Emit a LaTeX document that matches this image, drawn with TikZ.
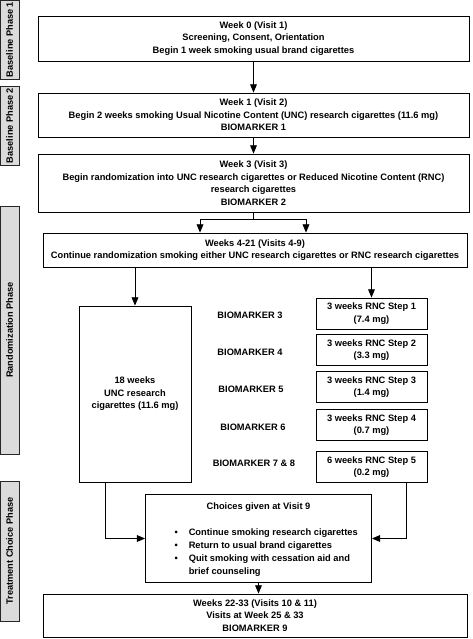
\documentclass[tikz,border=0pt]{standalone}
\usepackage{fontspec}
\setmainfont{Liberation Sans}
\usetikzlibrary{
    arrows,
    calc,
    positioning
}
\tikzset{
    stage/.style={draw, line width=0.9pt, align=center, inner sep=0pt,
        font=\bfseries\fontsize{9.3}{12.6}\selectfont},
    phase/.style={draw=black!85, line width=0.8pt, fill=black!14, rotate=90, inner sep=0pt,
        minimum height=19pt, font=\bfseries\fontsize{9.2}{10}\selectfont},
    marker/.style={font=\bfseries\fontsize{9.3}{11}\selectfont},
    flow/.style={-triangle 45, line width=0.9pt},
    link/.style={line width=0.9pt}
}

\begin{document}
\begin{tikzpicture}[x=1pt, y=-1pt]
    \useasboundingbox (0, 0) rectangle (473, 639);
    \node[phase, minimum width=79pt] (base1) at (9.5, 39.5) {Baseline Phase 1};
    \node[phase, minimum width=79pt] (base2) at (9.5, 125.5) {Baseline Phase 2};
    \node[phase, minimum width=248pt] (rand) at (9.5, 330) {Randomization Phase};
    \node[phase, minimum width=140pt] (choice) at (9.5, 551) {Treatment Choice Phase};
    \node[stage, minimum width=431pt, minimum height=45pt] (week0) at (253.5, 38.5)
        {Week 0 (Visit 1)\\Screening, Consent, Orientation\\Begin 1 week smoking usual brand cigarettes};
    \node[stage, minimum width=431pt, minimum height=44pt] (week1) at (253.5, 115)
        {Week 1 (Visit 2)\\Begin 2 weeks smoking Usual Nicotine Content (UNC) research cigarettes (11.6 mg)\\BIOMARKER 1};
    \node[stage, minimum width=431pt, minimum height=58pt] (week3) at (253.5, 183)
        {Week 3 (Visit 3)\\Begin randomization into UNC research cigarettes or Reduced Nicotine Content (RNC)\\research cigarettes\\BIOMARKER 2};
    \node[stage, minimum width=424pt, minimum height=34pt] (week4) at (255, 250)
        {Weeks 4-21 (Visits 4-9)\\Continue randomization smoking either UNC research cigarettes or RNC research cigarettes};
    \node[stage, minimum width=112pt, minimum height=176pt] (unc) at (135, 394)
        {18 weeks\\UNC research\\cigarettes (11.6 mg)};
    \node[stage, minimum width=111pt, minimum height=31pt] (rnc1) at (371.5, 313.5) {3 weeks RNC Step 1\\(7.4 mg)};
    \node[stage, minimum width=111pt, minimum height=31pt] (rnc2) at (371.5, 350) {3 weeks RNC Step 2\\(3.3 mg)};
    \node[stage, minimum width=111pt, minimum height=31pt] (rnc3) at (371.5, 387) {3 weeks RNC Step 3\\(1.4 mg)};
    \node[stage, minimum width=111pt, minimum height=31pt] (rnc4) at (371.5, 425) {3 weeks RNC Step 4\\(0.7 mg)};
    \node[stage, minimum width=111pt, minimum height=31pt] (rnc5) at (371.5, 467) {6 weeks RNC Step 5\\(0.2 mg)};
    \node[marker] (bio3) at (250, 315) {BIOMARKER 3};
    \node[marker] (bio4) at (250, 352) {BIOMARKER 4};
    \node[marker] (bio5) at (251, 389) {BIOMARKER 5};
    \node[marker] (bio6) at (253, 427) {BIOMARKER 6};
    \node[marker] (bio78) at (254, 463) {BIOMARKER 7 \& 8};
    \node[stage, minimum width=226pt, minimum height=88pt] (choices) at (258.5, 538.5) {};
    \node[marker, below=5pt of choices.north] (choicehead) {Choices given at Visit 9};
    \node[marker, anchor=north west, align=left] (choicelist) at (171, 523)
        {\fontsize{9.3}{13}\selectfont
        \begin{tabular}{@{}l@{\hspace{11pt}}l@{}}
            \textbullet & Continue smoking research cigarettes\\
            \textbullet & Return to usual brand cigarettes\\
            \textbullet & Quit smoking with cessation aid and\\
                        & brief counseling
        \end{tabular}};
    \node[stage, minimum width=424pt, minimum height=43pt] (week22) at (255, 615.5)
        {Weeks 22-33 (Visits 10 \& 11)\\Visits at Week 25 \& 33\\BIOMARKER 9};
    \coordinate (splitL) at (200, 219);
    \coordinate (splitR) at (306, 219);
    \draw[flow] (week0) -- (week1);
    \draw[flow] (week1) -- (week3);
    \draw[link]
    (week3.south) -- (week3.south |- splitL)
    (splitL) -- (splitR);
    \draw[flow] (splitL) -- (splitL |- week4.north);
    \draw[flow] (splitR) -- (splitR |- week4.north);
    \draw[flow] (unc.north |- week4.south) -- (unc.north);
    \draw[flow] (rnc1.north |- week4.south) -- (rnc1.north);
    \draw[flow] ([xshift=-30pt]unc.south) |- (choices.west);
    \draw[flow] ([xshift=35pt]rnc5.south) |- (choices.east);
    \draw[flow] (choices.south) -- (choices.south |- week22.north);
\end{tikzpicture}
\end{document}
